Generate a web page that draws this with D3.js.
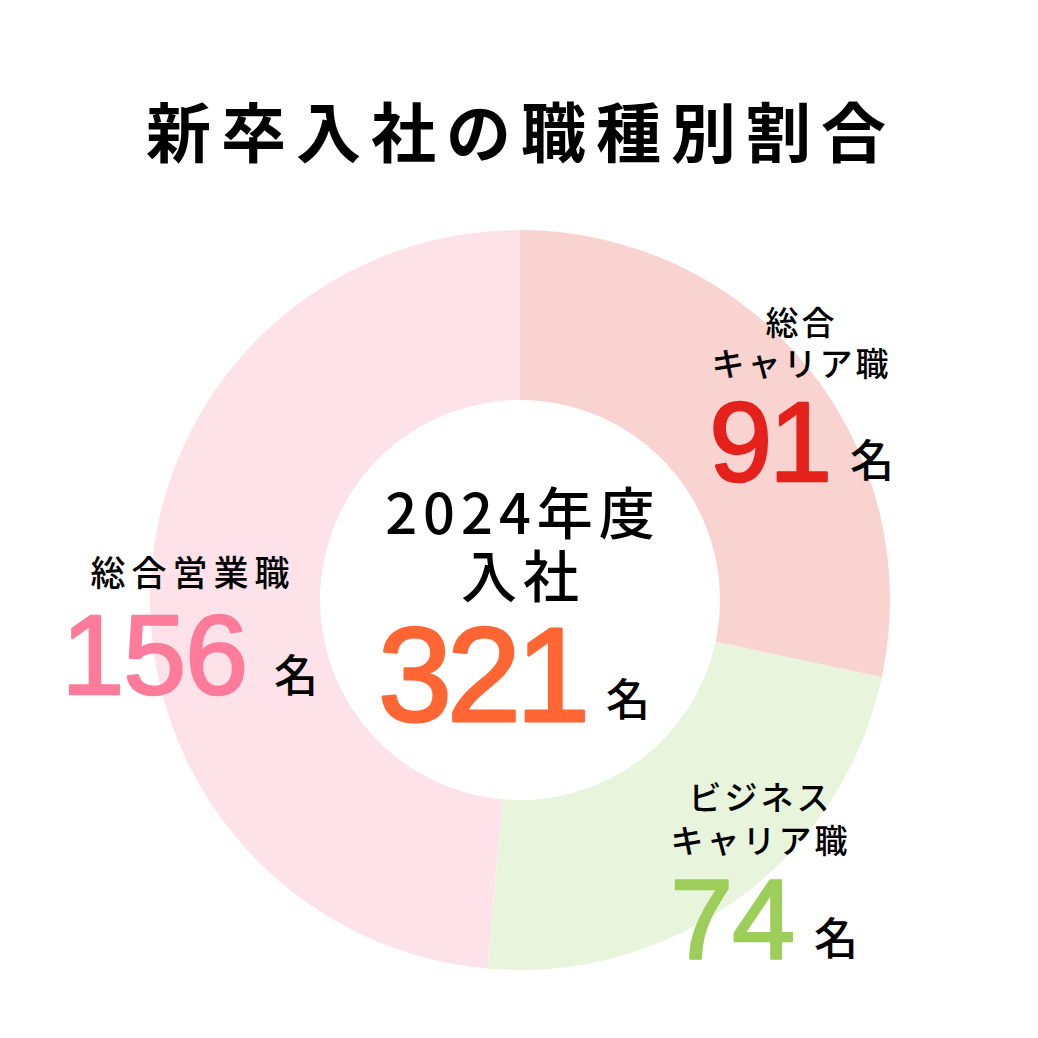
<!DOCTYPE html>
<html><head><meta charset="utf-8">
<script src="https://cdn.jsdelivr.net/npm/d3@7"></script>
<style>
html,body{margin:0;padding:0;background:#fff;}
svg{display:block;}
</style></head>
<body>
<svg id="chart" width="1038" height="1038"></svg>
<script>
const title = "新卒入社の職種別割合";
const categories = ["総合キャリア職", "ビジネスキャリア職", "総合営業職"];
const labelLines = [["総合", "キャリア職"], ["ビジネス", "キャリア職"], ["総合営業職"]];
const values = [91, 74, 156];
const sliceColors = ["#f9d3d0", "#e9f4dd", "#fde3e9"];
const numberColors = ["#e4211b", "#9dcd5a", "#ff7b9c"];
const centerLines = ["2024年度", "入社"];
const totalValue = 321;
const unit = "名";

const svg = d3.select("#chart");
const cx = 520, cy = 600, R = 370, r = 200;
const jp = "'Noto Sans CJK JP', 'Noto Sans', sans-serif";
const num = "'Liberation Sans', Arial, sans-serif";

svg.append("text").attr("x", 521).attr("y", 157)
  .attr("text-anchor", "middle").attr("font-family", jp).attr("font-weight", 700)
  .attr("font-size", 65).attr("letter-spacing", 10).attr("fill", "#000")
  .text(title);

const pie = d3.pie().sort(null).value(d => d)(values);
const arc = d3.arc().innerRadius(r).outerRadius(R);
const g = svg.append("g").attr("transform", `translate(${cx},${cy})`);
g.selectAll("path").data(pie).join("path")
  .attr("d", arc).attr("fill", (d, i) => sliceColors[i]);

// label layout (positions only)
const layout = [
  {cx: 800, lineY: [335, 376], lineSize: 33, ls: 3, numEnd: 829, numY: 481, numSize: 113, nls: -3, unitX: 850, unitY: 477},
  {cx: 759, lineY: [810, 853], lineSize: 33, ls: 3, numEnd: 794, numY: 959, numSize: 113, nls: -1, unitX: 814, unitY: 955},
  {cx: 190, lineY: [586], lineSize: 35, ls: 6, numEnd: 247, numY: 694, numSize: 113, nls: -1, unitX: 274, unitY: 692}
];

layout.forEach((L, i) => {
  labelLines[i].forEach((s, k) => {
    svg.append("text").attr("x", L.cx + L.ls / 2).attr("y", L.lineY[k])
      .attr("text-anchor", "middle").attr("font-family", jp).attr("font-weight", 500)
      .attr("font-size", L.lineSize).attr("letter-spacing", L.ls).attr("fill", "#000").text(s);
  });
  svg.append("text").attr("x", L.numEnd).attr("y", L.numY)
    .attr("text-anchor", "end").attr("font-family", num)
    .attr("font-size", L.numSize).attr("letter-spacing", L.nls)
    .attr("fill", numberColors[i]).attr("stroke", numberColors[i]).attr("stroke-width", 2.5)
    .attr("stroke-linejoin", "round")
    .text(values[i]);
  svg.append("text").attr("x", L.unitX).attr("y", L.unitY)
    .attr("font-family", jp).attr("font-weight", 500).attr("font-size", 44)
    .attr("fill", "#000").text(unit);
});

// center
const ct = svg.append("text").attr("text-anchor", "middle").attr("font-family", jp)
  .attr("font-weight", 500).attr("font-size", 56).attr("letter-spacing", 6).attr("fill", "#000");
ct.append("tspan").attr("x", 523).attr("y", 534).text(centerLines[0]);
ct.append("tspan").attr("x", 523).attr("y", 597).text(centerLines[1]);

svg.append("text").attr("x", 585).attr("y", 721)
  .attr("text-anchor", "end").attr("font-family", num)
  .attr("font-size", 133).attr("letter-spacing", -5)
  .attr("fill", "#ff6633").attr("stroke", "#ff6633").attr("stroke-width", 3)
  .attr("stroke-linejoin", "round")
  .text(totalValue);
svg.append("text").attr("x", 606).attr("y", 716)
  .attr("font-family", jp).attr("font-weight", 500).attr("font-size", 44)
  .attr("fill", "#000").text(unit);
</script>
</body></html>
